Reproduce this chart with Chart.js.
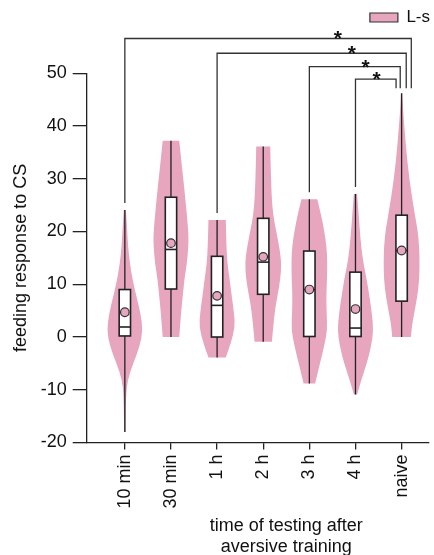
<!DOCTYPE html>
<html>
<head>
<meta charset="utf-8">
<script src="https://cdn.jsdelivr.net/npm/chart.js@4.4.1/dist/chart.umd.min.js"></script>
<style>
  html, body { margin: 0; padding: 0; background: #fff; }
  #wrap { width: 434px; height: 555px; }
</style>
</head>
<body>
<div id="wrap"><canvas id="violin-chart"></canvas></div>
<script>
const categories = ['10 min', '30 min', '1 h', '2 h', '3 h', '4 h', 'naive']

// violin outlines: values along y, and relative density (1 = widest)
const violinValues = [
  [24.1, 20.3, 17.1, 14.0, 10.8, 7.6, 4.5, 1.3, -1.8, -5.0, -8.2, -11.3, -18.0],
  [37.2, 32.9, 26.6, 20.3, 17.8, 14.0, 10.8, 7.6, 4.5, 0.0],
  [22.2, 17.1, 14.0, 10.8, 7.6, 4.5, 2.0, -1.2, -3.9],
  [36.1, 29.8, 23.5, 19.0, 15.2, 12.7, 9.5, 5.7, 2.0, -0.9],
  [26.1, 23.5, 20.3, 17.1, 14.0, 10.8, 7.6, 4.5, 1.3, -1.8, -5.0, -8.8],
  [27.1, 23.5, 20.3, 17.1, 14.0, 10.8, 7.6, 4.5, 1.3, -1.8, -5.0, -8.2, -10.9],
  [46.2, 42.4, 39.2, 36.1, 29.8, 23.5, 20.3, 17.1, 14.0, 10.8, 7.6, 4.5, 2.0, 0.0]
]
const violinDensity = [
  [0.06, 0.13, 0.18, 0.28, 0.43, 0.65, 0.87, 1.0, 0.83, 0.46, 0.15, 0.06, 0.04],
  [0.46, 0.59, 0.79, 0.96, 0.98, 0.89, 0.74, 0.65, 0.56, 0.46],
  [0.48, 0.52, 0.57, 0.7, 0.82, 0.94, 1.0, 0.76, 0.48],
  [0.39, 0.43, 0.52, 0.79, 0.98, 1.0, 0.89, 0.67, 0.56, 0.48],
  [0.44, 0.63, 0.82, 0.96, 1.0, 0.98, 0.94, 0.96, 1.0, 0.82, 0.59, 0.32],
  [0.09, 0.17, 0.24, 0.32, 0.44, 0.63, 0.78, 0.91, 1.0, 0.87, 0.63, 0.32, 0.09],
  [0.04, 0.09, 0.17, 0.24, 0.43, 0.72, 0.89, 0.98, 1.0, 0.98, 0.87, 0.7, 0.57, 0.52]
]

const whiskerLow = [-18.0, 0.0, -3.9, -0.9, -8.8, -10.9, 0.0]
const q1 = [0.2, 9.1, 0.0, 8.1, 0.1, 0.1, 6.8]
const medians = [1.9, 16.6, 6.0, 14.2, 9.0, 1.7, 16.4]
const q3 = [9.0, 26.5, 15.3, 22.5, 16.3, 12.3, 23.1]
const whiskerHigh = [24.1, 37.2, 22.2, 36.1, 26.1, 27.1, 46.2]
const means = [4.7, 17.8, 7.8, 15.2, 9.0, 5.3, 16.4]

// significance brackets vs naive
const sigFrom = [0, 2, 4, 5]
const sigTo = 6
const sigLabels = ['*', '*', '*', '*']

const pink = '#e7a5be'
const ink = '#222'
const fontFamily = '"Liberation Sans", Arial, Helvetica, sans-serif'
Chart.defaults.font.family = fontFamily
Chart.defaults.color = '#111'

function tracePath(ctx, pts, start) {
    if (start) ctx.moveTo(pts[0][0], pts[0][1])
    else ctx.lineTo(pts[0][0], pts[0][1])
    for (let k = 1; k < pts.length - 1; k++) {
        const mx = (pts[k][0] + pts[k + 1][0]) / 2
        const my = (pts[k][1] + pts[k + 1][1]) / 2
        ctx.quadraticCurveTo(pts[k][0], pts[k][1], mx, my)
    }
    const last = pts[pts.length - 1]
    ctx.lineTo(last[0], last[1])
}

const violinPlugin = {
    id: 'violins',
    beforeDatasetsDraw(chart) {
        const {ctx, scales: {x, y}} = chart
        const maxHalf = 0.39
        const boxHalf = 0.123
        ctx.save()
        categories.forEach((c, i) => {
            const vals = violinValues[i]
            const dens = violinDensity[i]
            const right = vals.map((v, k) => [x.getPixelForValue(i + dens[k] * maxHalf), y.getPixelForValue(v)])
            const left = vals.map((v, k) => [x.getPixelForValue(i - dens[k] * maxHalf), y.getPixelForValue(v)]).reverse()
            ctx.beginPath()
            tracePath(ctx, right, true)
            tracePath(ctx, left, false)
            ctx.closePath()
            ctx.fillStyle = pink
            ctx.fill()

            const cx = x.getPixelForValue(i)
            ctx.strokeStyle = ink
            ctx.lineWidth = 1.3
            ctx.beginPath()
            ctx.moveTo(cx, y.getPixelForValue(whiskerLow[i]))
            ctx.lineTo(cx, y.getPixelForValue(q1[i]))
            ctx.moveTo(cx, y.getPixelForValue(q3[i]))
            ctx.lineTo(cx, y.getPixelForValue(whiskerHigh[i]))
            ctx.stroke()

            const bx0 = x.getPixelForValue(i - boxHalf)
            const bx1 = x.getPixelForValue(i + boxHalf)
            const by0 = y.getPixelForValue(q3[i])
            const by1 = y.getPixelForValue(q1[i])
            ctx.fillStyle = '#fff'
            ctx.fillRect(bx0, by0, bx1 - bx0, by1 - by0)
            ctx.lineWidth = 1.6
            ctx.strokeRect(bx0, by0, bx1 - bx0, by1 - by0)
            const my = y.getPixelForValue(medians[i])
            ctx.beginPath()
            ctx.moveTo(bx0, my)
            ctx.lineTo(bx1, my)
            ctx.stroke()
        })
        ctx.restore()
    },
    afterDraw(chart) {
        const {ctx, scales: {x, y}} = chart
        const levels = [56.6, 53.8, 51.25, 48.9]
        const rightOffsets = [0.21, 0.1, -0.03, -0.12]
        const starPos = [4.62, 4.92, 5.22, 5.46]
        ctx.save()
        ctx.strokeStyle = '#333'
        ctx.lineWidth = 1.3
        sigFrom.forEach((from, k) => {
            const lx = x.getPixelForValue(from)
            const rx = x.getPixelForValue(sigTo + rightOffsets[k])
            const top = y.getPixelForValue(levels[k])
            const lBottom = y.getPixelForValue(whiskerHigh[from]) - 7
            const rBottom = y.getPixelForValue(whiskerHigh[sigTo]) - 5
            ctx.beginPath()
            ctx.moveTo(lx, lBottom)
            ctx.lineTo(lx, top)
            ctx.lineTo(rx, top)
            ctx.lineTo(rx, rBottom)
            ctx.stroke()
            ctx.fillStyle = '#111'
            ctx.font = 'bold 21px ' + fontFamily
            ctx.textAlign = 'center'
            ctx.textBaseline = 'alphabetic'
            ctx.fillText(sigLabels[k], x.getPixelForValue(starPos[k]), top + 7)
        })

        ctx.fillStyle = '#111'
        ctx.font = '18px ' + fontFamily
        ctx.textAlign = 'center'
        const tx = x.getPixelForValue(3.5)
        ctx.fillText('time of testing after', tx, 530.5)
        ctx.fillText('aversive training', tx, 551.5)
        ctx.restore()
    }
}

const meanDataset = {
    type: 'scatter',
    label: 'L-s',
    data: means.map((m, i) => ({x: i, y: m})),
    backgroundColor: pink,
    borderColor: '#333',
    borderWidth: 1.2,
    pointRadius: 4.3,
    pointHoverRadius: 4.3
}

const config = {
    type: 'scatter',
    data: {
        datasets: [meanDataset]
    },
    options: {
        responsive: true,
        maintainAspectRatio: false,
        animation: false,
        layout: {
            padding: {top: 9, right: 4, left: 0, bottom: 0}
        },
        plugins: {
            legend: {
                display: true,
                position: 'top',
                align: 'end',
                labels: {
                    boxWidth: 28,
                    boxHeight: 9,
                    padding: 0,
                    color: '#111',
                    font: {size: 17}
                }
            },
            tooltip: {
                enabled: false
            }
        },
        scales: {
            x: {
                type: 'linear',
                min: -0.827,
                max: 6.583,
                afterBuildTicks(scale) {
                    scale.ticks = categories.map((c, i) => ({value: i}))
                },
                afterFit(scale) {
                    scale.height = 112.5
                },
                ticks: {
                    autoSkip: false,
                    minRotation: 90,
                    maxRotation: 90,
                    padding: 5,
                    color: '#111',
                    font: {size: 18},
                    callback: (v) => categories[v]
                },
                grid: {
                    drawOnChartArea: false,
                    drawTicks: true,
                    tickLength: 7,
                    color: ink,
                    lineWidth: 1.3
                },
                border: {
                    display: true,
                    color: ink,
                    width: 1.3
                }
            },
            xTop: {
                type: 'linear',
                position: 'top',
                display: true,
                afterFit(scale) {
                    scale.height = 37.3
                },
                ticks: {
                    display: false
                },
                grid: {
                    display: false
                },
                border: {
                    display: false
                }
            },
            y: {
                min: -20,
                max: 50,
                afterFit(scale) {
                    scale.width = 86.7
                },
                ticks: {
                    stepSize: 10,
                    padding: 6,
                    color: '#111',
                    font: {size: 18}
                },
                grid: {
                    drawOnChartArea: false,
                    drawTicks: true,
                    tickLength: 14,
                    color: ink,
                    lineWidth: 1.3
                },
                border: {
                    display: true,
                    color: ink,
                    width: 1.3
                },
                title: {
                    display: true,
                    text: 'feeding response to CS',
                    color: '#111',
                    font: {size: 18},
                    padding: {top: 10, bottom: 0}
                }
            }
        }
    },
    plugins: [violinPlugin]
}

new Chart(document.getElementById('violin-chart'), config)
</script>
</body>
</html>
